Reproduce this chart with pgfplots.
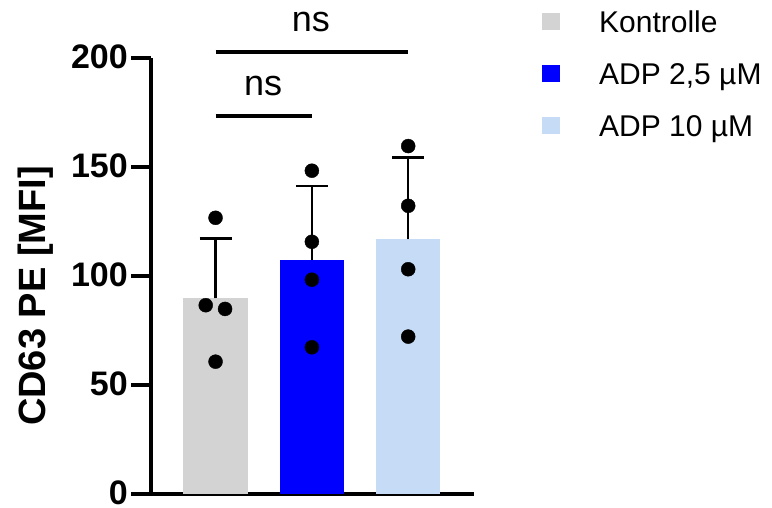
\documentclass[border=0pt]{standalone}
\usepackage{pgfplots}
\pgfplotsset{compat=1.18}
\usepackage{fontspec}
\setmainfont{Liberation Sans}

\definecolor{ctrlgray}{RGB}{211,211,211}
\definecolor{adpblue}{RGB}{0,0,255}
\definecolor{adplight}{RGB}{198,219,246}

\begin{document}
\begin{tikzpicture}
\begin{axis}[
  at={(151pt,-494pt)}, anchor=south west,
  scale only axis, width=323pt, height=436pt,
  xmin=0.33, xmax=3.683, ymin=0, ymax=200,
  clip=false,
  axis lines=left,
  axis line style={-, line width=3.5pt, black},
  xtick=\empty,
  ytick={0,50,100,150,200},
  tick align=outside,
  major tick length=20pt,
  tick style={line width=3.5pt, black},
  /pgf/number format/assume math mode=true,
  yticklabel style={font=\fontsize{34}{34}\selectfont\bfseries, inner xsep=3pt, inner ysep=0pt, yshift=1.5pt},
  ylabel={CD63 PE [MFI]},
  every axis y label/.style={at={(rel axis cs:-0.358,0.454)}, rotate=90, anchor=center,
    font=\fontsize{38}{38}\selectfont\bfseries},
  legend style={at={(axis description cs:1.2105,1.1078)}, anchor=north west,
    draw=none, fill=none, inner sep=0pt, row sep=30.5pt,
    font=\fontsize{30}{30}\selectfont,
    nodes={inner sep=0pt, text height=21.5pt, text depth=0pt},
    /tikz/every odd column/.append style={column sep=39pt}},
  legend cell align=left,
  legend image code/.code={\fill[#1] (0pt,-8.5pt) rectangle (18pt,8.5pt);},
  error bars/y dir=plus, error bars/y explicit,
  error bars/error bar style={line width=2.5pt, black},
  error bars/error mark options={rotate=90, mark size=16pt, line width=2.5pt, black},
]
% mean bars with upward SD whiskers
\addplot[ybar, bar width=64.4pt, bar shift=0pt, fill=ctrlgray, draw=none]
  coordinates {(1,89.7) +- (0,27.5)};
\addlegendentry{Kontrolle}
\addplot[ybar, bar width=64.4pt, bar shift=0pt, fill=adpblue, draw=none]
  coordinates {(2,107.4) +- (0,33.9)};
\addlegendentry{ADP 2,5 µM}
\addplot[ybar, bar width=64.4pt, bar shift=0pt, fill=adplight, draw=none]
  coordinates {(3,116.8) +- (0,37.6)};
\addlegendentry{ADP 10 µM}

% individual donors
\addplot[only marks, mark=*, mark size=7pt, black, forget plot]
  coordinates {(1,126.7) (0.898,86.6) (1.099,84.9) (1,60.7)};
\addplot[only marks, mark=*, mark size=7pt, black, forget plot]
  coordinates {(2,148.3) (2,115.7) (2,98.3) (2,67.3)};
\addplot[only marks, mark=*, mark size=7pt, black, forget plot]
  coordinates {(3,159.6) (3,132.2) (3,103.1) (3,72.2)};

% significance brackets
\addplot[line width=4pt, black, forget plot] coordinates {(1,173.6) (2,173.6)};
\addplot[line width=4pt, black, forget plot] coordinates {(1,202.6) (3,202.6)};
\node[anchor=base, font=\fontsize{36}{36}\selectfont] at (axis cs:1.493,183) {ns};
\node[anchor=base, font=\fontsize{36}{36}\selectfont] at (axis cs:1.99,212.1) {ns};
\end{axis}
\pgfresetboundingbox
\path (0pt,0pt) rectangle (772pt,-508pt);
\end{tikzpicture}
\end{document}
